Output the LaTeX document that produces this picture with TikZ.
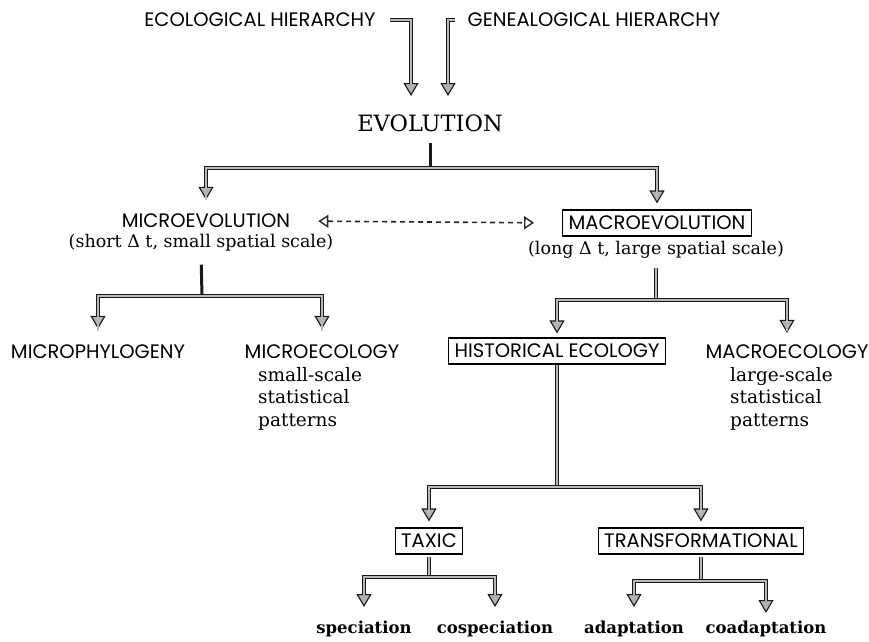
\documentclass[tikz,border=0pt]{standalone}
\usepackage{fontspec}
\usetikzlibrary{arrows.meta,calc}
\newfontfamily\gothic{Poppins}
\newfontfamily\serifx{DejaVu Serif}
\tikzset{
  sans/.style={font=\gothic\fontsize{19.5}{22}\selectfont, inner sep=2pt},
  boxed/.style={sans, draw, line width=1.2pt, inner xsep=6pt, inner ysep=6pt},
  ser/.style={font=\serifx\fontsize{17.5}{20}\selectfont, inner sep=1pt},
  serlines/.style={font=\serifx\fontsize{18.5}{22.5}\selectfont, inner sep=0pt, anchor=north west, align=left},
  boldlab/.style={font=\serifx\bfseries\fontsize{16.5}{19}\selectfont},
  stem/.style={draw=black!90, line width=3pt},
  shaft/.style={draw=black!90, line width=4.4pt,
    postaction={draw=gray!55, line width=1.6pt}},
  conn/.style={draw=black!90, line width=4.4pt,
    -{Triangle[length=13pt,width=15pt,line width=1.1pt,fill=gray!60]},
    postaction={draw=gray!55, line width=1.6pt, -, shorten >=12pt}},
  dashconn/.style={draw=black!85, line width=1.6pt, dash pattern=on 5pt off 4pt,
    {Triangle[open,length=10pt,width=13pt,line width=1.4pt]}-{Triangle[open,length=10pt,width=13pt,line width=1.4pt]}}
}
\begin{document}
\begin{tikzpicture}[x=1pt,y=-1pt]
\useasboundingbox[fill=white] (0,0) rectangle (869,641);

% nodes
\node[sans] (eco) at (260,20) {ECOLOGICAL HIERARCHY};
\node[sans] (gen) at (594,20) {GENEALOGICAL HIERARCHY};
\node[font=\serifx\fontsize{22.5}{25}\selectfont] (evo) at (430,123) {EVOLUTION};
\node[sans] (micro) at (206,221) {MICROEVOLUTION};
\node[ser] (microt) at (201,243) {(short Δ t, small spatial scale)};
\node[boxed] (macro) at (657,223) {MACROEVOLUTION};
\node[ser] (macrot) at (656,250) {(long Δ t, large spatial scale)};
\node[sans] (mphy) at (98,352) {MICROPHYLOGENY};
\node[sans] (mecol) at (322,352) {MICROECOLOGY};
\node[serlines] (mecolt) at (258,367) {small-scale\\statistical\\patterns};
\node[boxed] (hist) at (557,351) {HISTORICAL ECOLOGY};
\node[sans] (maeco) at (787,352) {MACROECOLOGY};
\node[serlines] (maecot) at (730,367) {large-scale\\statistical\\patterns};
\node[boxed] (taxic) at (429,541) {TAXIC};
\node[boxed] (trans) at (701,541) {TRANSFORMATIONAL};
\node[boldlab] (spec) at (364,629) {speciation};
\node[boldlab] (cospec) at (495,629) {cospeciation};
\node[boldlab] (adapt) at (634,629) {adaptation};
\node[boldlab] (coadapt) at (766,629) {coadaptation};

% junctions and free ends
\coordinate (eIn) at (411,96);
\coordinate (gIn) at (448,96);
\coordinate (j1) at (430,168);
\coordinate (j2) at (202,296);
\coordinate (j3) at (656,300);
\coordinate (j4) at (557,487);
\coordinate (j5) at (429,577);
\coordinate (j6) at (701,581);
\coordinate (aSpec) at (364,607);
\coordinate (aCospec) at (495,607);
\coordinate (aAdapt) at (634,607);
\coordinate (aCoadapt) at (766,613);

% connectors
\draw[conn, shorten <=12pt] (eco.east) -| (eIn);
\draw[conn, shorten <=10pt] (gen.west) -| (gIn);

\draw[stem, shorten <=8pt] (evo.south) -- (j1);
\draw[conn, shorten >=12pt] (j1) -| (micro);
\draw[conn, shorten >=6pt] (j1) -| (macro);

\draw[dashconn, shorten <=26pt, shorten >=28pt] (micro.east) -- (macro.west);

\draw[stem, shorten <=12pt] (microt.south) -- (j2);
\draw[conn, shorten >=14pt] (j2) -| (mphy);
\draw[conn, shorten >=14pt] (j2) -| (mecol);

\draw[shaft, shorten <=8pt] (macrot.south) -- (j3);
\draw[conn, shorten >=4pt] (j3) -| (hist);
\draw[conn, shorten >=10pt] (j3) -| (maeco);

\draw[shaft] (hist.south) -- (j4);
\draw[conn, shorten >=6pt] (j4) -| (taxic);
\draw[conn, shorten >=6pt] (j4) -| (trans);

\draw[shaft, shorten <=2pt] (taxic.south) -- (j5);
\draw[conn] (j5) -| (aSpec);
\draw[conn] (j5) -| (aCospec);

\draw[shaft, shorten <=2pt] (trans.south) -- (j6);
\draw[conn] (j6) -| (aAdapt);
\draw[conn] (j6) -| (aCoadapt);
\end{tikzpicture}
\end{document}
